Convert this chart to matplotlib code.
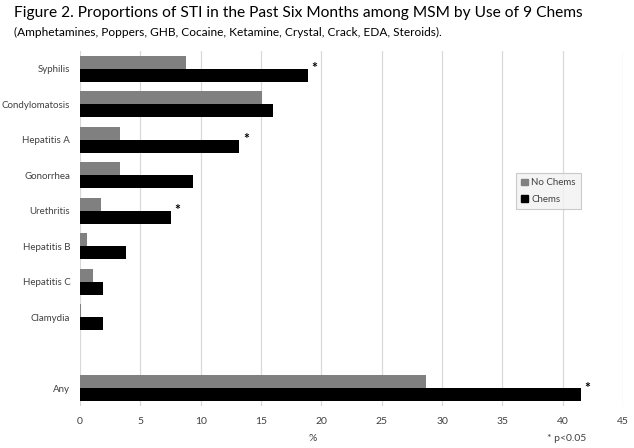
import numpy as np
import matplotlib
matplotlib.use("Agg")
import matplotlib.pyplot as plt
from matplotlib.patches import Patch

categories = ["Syphilis", "Condylomatosis", "Hepatitis A", "Gonorrhea", "Urethritis",
              "Hepatitis B", "Hepatitis C", "Clamydia", "", "Any"]
no_chems = [8.75, 15.1, 3.3, 3.3, 1.7, 0.57, 1.06, 0.1, np.nan, 28.7]
chems = [18.9, 16.0, 13.2, 9.4, 7.5, 3.8, 1.9, 1.9, np.nan, 41.5]
significant = [True, False, True, False, True, False, False, False, False, True]
xticks = [0, 5, 10, 15, 20, 25, 30, 35, 40, 45]

plt.rcParams['font.family'] = ['Liberation Sans Narrow', 'Lato', 'DejaVu Sans']

fig = plt.figure(figsize=(6.34, 4.48), dpi=100)
ax = fig.add_axes([80/634, 1-406/448, (623-80)/634, (406-51)/448])

grey = "#808080"
txtc = "#404040"
y = np.arange(len(categories))
h = 0.36
ax.barh(y - h/2, no_chems, height=h, color=grey, label="No Chems", zorder=3)
ax.barh(y + h/2, chems, height=h, color="black", label="Chems", zorder=3)

for yi, v, s in zip(y, chems, significant):
    if s:
        ax.text(v + 0.3, yi + h/2 - 0.2, "*", fontsize=10, fontweight='bold',
                ha='left', va='center', color='black', zorder=4)

ax.set_ylim(len(categories) - 0.5, -0.5)
ax.set_xlim(0, 45)
ax.set_yticks(y)
ax.set_yticklabels(categories, fontsize=7.5, color=txtc)
ax.set_xticks(xticks)
ax.set_xticklabels([str(t) for t in xticks], fontsize=7.5, color=txtc)
ax.tick_params(axis='both', length=0)
ax.tick_params(axis='y', pad=7)
ax.tick_params(axis='x', pad=8)
for sp in ax.spines.values():
    sp.set_visible(False)
ax.xaxis.grid(True, color="#d9d9d9", linewidth=0.9, zorder=0)
ax.set_axisbelow(True)

leg = ax.legend(handles=[Patch(color=grey, label="No Chems"), Patch(color="black", label="Chems")],
                loc='upper left', bbox_to_anchor=((516-80)/543, 1-(173-51)/355),
                fontsize=7, frameon=True, fancybox=False, handlelength=0.7, handleheight=0.7,
                handletextpad=0.3, borderpad=0.55, labelspacing=0.75, borderaxespad=0)
leg.get_frame().set_facecolor("#f2f2f2")
leg.get_frame().set_edgecolor("#bfbfbf")
leg.get_frame().set_linewidth(0.8)
for t in leg.get_texts():
    t.set_color(txtc)

fig.text(313/634, 1-438/448, "%", fontsize=7.5, color=txtc, ha='center', va='center')
fig.text(586/634, 1-438/448, "* p<0.05", fontsize=7.5, color=txtc, ha='right', va='center')

title = fig.text(14/634, 1-13/448, "Figure 2. Proportions of STI in the Past Six Months among MSM by Use of 9 Chems",
                 fontsize=12.5, color="black", ha='left', va='center')
sub = fig.text(14/634, 1-32/448, "(Amphetamines, Poppers, GHB, Cocaine, Ketamine, Crystal, Crack, EDA, Steroids).",
               fontsize=8.5, color="black", ha='left', va='center')

# fit widths
fig.canvas.draw()
r = fig.canvas.get_renderer()
for t, target in [(title, 571), (sub, 428)]:
    w = t.get_window_extent(r).width
    t.set_fontsize(t.get_fontsize() * target / w)
lab = [t for t in ax.get_yticklabels() if t.get_text() == "Condylomatosis"][0]
scale = 68 / lab.get_window_extent(r).width
for t in ax.get_yticklabels():
    t.set_fontsize(t.get_fontsize() * scale)

fig.savefig("out.png", dpi=100)
